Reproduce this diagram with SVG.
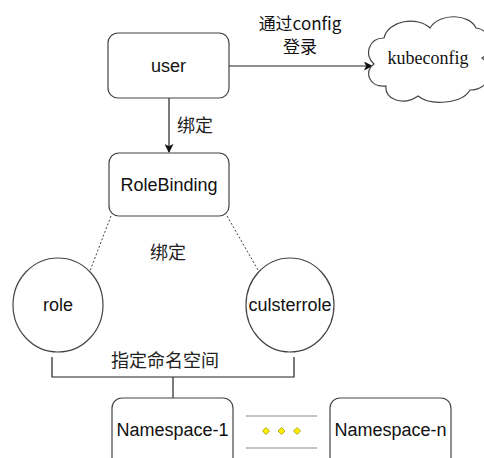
<svg xmlns="http://www.w3.org/2000/svg" width="484" height="458" viewBox="0 0 484 458">
<defs>
<style>
.box{fill:#fff;stroke:#444;stroke-width:1.2}
.t{font-family:"Liberation Sans","Noto Sans CJK SC",Arial,sans-serif;font-size:18px;fill:#111;text-anchor:middle}
.cjk{font-family:"Noto Sans CJK SC","Liberation Sans",sans-serif;font-size:18px;fill:#222}
.line{stroke:#222;stroke-width:1.2;fill:none}
.dash{stroke:#444;stroke-width:1;stroke-dasharray:2 2;fill:none}
.dia{fill:#ffee00;stroke:#999900;stroke-width:0.8}
</style>
<marker id="arr" viewBox="0 0 10 10" refX="9" refY="5" markerWidth="9" markerHeight="9" markerUnits="userSpaceOnUse" orient="auto">
<path d="M0,0 L10,5 L0,10 L2.5,5 Z" fill="#111"/>
</marker>
</defs>
<rect width="484" height="458" fill="#fff"/>

<g id="connectors">
<line class="line" x1="229" y1="66" x2="372" y2="66" marker-end="url(#arr)"/>
<line class="line" x1="169" y1="98" x2="169" y2="152" marker-end="url(#arr)"/>
<line class="dash" x1="111" y1="216" x2="90" y2="271"/>
<line class="dash" x1="227" y1="216" x2="258" y2="270"/>
<path class="line" d="M52,357 V377 H294 V357"/>
<line class="line" x1="173" y1="377" x2="173" y2="398"/>
</g>

<g id="label-config">
<text class="t" x="300" y="30" style="font-family:'Noto Sans CJK SC','Liberation Sans',sans-serif;font-size:17px">通过config</text>
<text class="t" x="300" y="53" style="font-family:'Noto Sans CJK SC',sans-serif;font-size:17px">登录</text>
</g>
<g id="label-bind1"><text class="cjk" x="177" y="132">绑定</text></g>
<g id="label-bind2"><text class="cjk" x="150" y="259">绑定</text></g>
<g id="label-ns"><text class="cjk" x="111" y="367">指定命名空间</text></g>

<g id="user">
<rect class="box" x="108" y="33" width="121" height="65" rx="10"/>
<text class="t" x="168.5" y="72">user</text>
</g>

<g id="kubeconfig">
<path class="box" d="M374,64 C364,56 368,38 384,38 C388,20 418,16 430,28 C440,12 470,14 476,28 C492,30 494,50 482,58 C496,68 490,90 470,90 C462,104 430,106 418,96 C404,106 384,100 386,86 C368,88 364,70 374,64 Z"/>
<text x="428" y="64" style="font-family:'Liberation Serif','Times New Roman',serif;font-size:18px;fill:#111;text-anchor:middle">kubeconfig</text>
</g>

<g id="rolebinding">
<rect class="box" x="109" y="153" width="120" height="63" rx="10"/>
<text class="t" x="169" y="191">RoleBinding</text>
</g>

<g id="role">
<ellipse class="box" cx="58" cy="305" rx="45" ry="47"/>
<text class="t" x="58" y="311">role</text>
</g>

<g id="culsterrole">
<ellipse class="box" cx="290" cy="305" rx="44" ry="47"/>
<text class="t" x="290" y="311">culsterrole</text>
</g>

<g id="namespace-1">
<rect class="box" x="112" y="398" width="121" height="70" rx="10"/>
<text class="t" x="172.5" y="436">Namespace-1</text>
</g>

<g id="ellipsis">
<line x1="246" y1="416" x2="317" y2="416" stroke="#888" stroke-width="1.2"/>
<line x1="246" y1="448" x2="317" y2="448" stroke="#888" stroke-width="1.2"/>
<path class="dia" d="M266,427.5 L269.5,431 L266,434.5 L262.5,431 Z"/>
<path class="dia" d="M281.5,427.5 L285,431 L281.5,434.5 L278,431 Z"/>
<path class="dia" d="M297,427.5 L300.5,431 L297,434.5 L293.5,431 Z"/>
</g>

<g id="namespace-n">
<rect class="box" x="330" y="398" width="121" height="70" rx="10"/>
<text class="t" x="390.5" y="436">Namespace-n</text>
</g>
</svg>
